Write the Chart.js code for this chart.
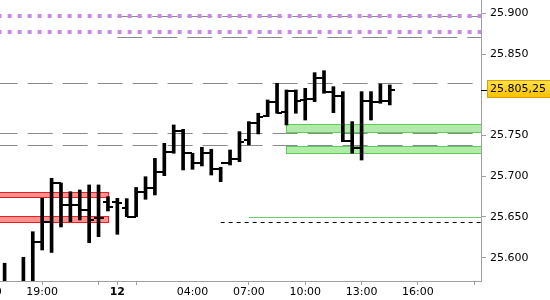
<!DOCTYPE html>
<html>
<head>
<meta charset="utf-8">
<script src="https://cdn.jsdelivr.net/npm/chart.js@4.4.0/dist/chart.umd.min.js"></script>
<style>
  html, body { margin: 0; padding: 0; background: #fff; }
  #wrap { width: 550px; height: 300px; }
</style>
</head>
<body>
<div id="wrap"><canvas id="chart" width="550" height="300"></canvas></div>
<script>
// 30 min bars, index 0 = first bar at the left edge
const opens  = [25.565, 25.566, 25.560, 25.568, 25.6187, 25.6442, 25.6917, 25.6647, 25.6647, 25.6586,
                25.6488, 25.6684, 25.6684, 25.6607, 25.6504, 25.6810, 25.6852, 25.7056, 25.7301, 25.7559,
                25.7282, 25.7159, 25.7289, 25.7085, 25.7166, 25.7208, 25.7445, 25.7650, 25.7739, 25.7915,
                25.7792, 25.8046, 25.7935, 25.7944, 25.8202, 25.8038, 25.7985, 25.7436, 25.7343, 25.7927,
                25.7915, 25.7927];
const highs  = [25.5932, 25.568, 25.6005, 25.6319, 25.6729, 25.6975, 25.6917, 25.6810, 25.6831, 25.6893,
                25.6893, 25.6749, 25.6729, 25.6725, 25.6862, 25.6994, 25.7220, 25.7404, 25.7629, 25.7576,
                25.7282, 25.7355, 25.7331, 25.7110, 25.7322, 25.7547, 25.7670, 25.7773, 25.7936, 25.8141,
                25.8059, 25.8059, 25.8079, 25.8271, 25.8295, 25.8099, 25.8038, 25.7670, 25.8038, 25.8038,
                25.8132, 25.8120];
const lows   = [25.555, 25.552, 25.555, 25.560, 25.6095, 25.6064, 25.6377, 25.6442, 25.6463, 25.6184,
                25.6258, 25.6573, 25.6287, 25.6504, 25.6504, 25.6717, 25.6770, 25.7007, 25.7282, 25.7077,
                25.7085, 25.7126, 25.7015, 25.6933, 25.7138, 25.7179, 25.7384, 25.7519, 25.7731, 25.7773,
                25.7629, 25.7773, 25.7690, 25.7915, 25.8018, 25.7780, 25.7424, 25.7282, 25.7199, 25.7690,
                25.7895, 25.7875];
const closes = [25.568, 25.556, 25.569, 25.6187, 25.6442, 25.6921, 25.6647, 25.6647, 25.6586, 25.6463,
                25.6488, 25.6623, 25.6672, 25.6504, 25.6810, 25.6852, 25.7056, 25.7301, 25.7559, 25.7282,
                25.7159, 25.7289, 25.7085, 25.7166, 25.7208, 25.7424, 25.7650, 25.7724, 25.7915, 25.7780,
                25.8046, 25.7927, 25.7944, 25.8202, 25.8038, 25.7985, 25.7436, 25.7343, 25.7927, 25.7915,
                25.7927, 25.80525];

const xTickPos    = [-2, 4, 10, 12, 14, 20, 26, 32, 38, 44, 50];
const xTickLabels = ['16:00', '19:00', '', '12', '', '04:00', '07:00', '10:00', '13:00', '16:00', ''];
const yTickVals   = [25.6, 25.65, 25.7, 25.75, 25.85, 25.9];

// drawn levels and zones
const dashLevels = [25.8967, 25.8709, 25.8141, 25.7527, 25.7380];
const dashFrom   = [12, 12, -5, -5, -5];
const dotLevels  = [25.8967, 25.8770];
const redZones   = [[25.6810, 25.6745], [25.6508, 25.6438]];
const redZoneEnd = 11;
const greenZones = [[25.7638, 25.7539], [25.7371, 25.7282]];
const greenZoneStart = 30;
const greenLevel = 25.6496, greenLevelFrom = 26;
const stopLevel = 25.6442, stopLevelFrom = 23;

const FONT = 'DejaVu Sans';
Chart.defaults.font.family = FONT;
Chart.defaults.font.size = 11;
Chart.defaults.color = '#000';

const fmtPrice = v => {
  const s = v.toFixed(5);
  return s.slice(0, -2) + ',' + s.slice(-2);
};

const levelsPlugin = {
  id: 'levels',
  beforeDatasetsDraw(chart) {
    const { ctx, chartArea: a, scales: { x, y } } = chart;
    const right = x.max + 5;
    ctx.save();
    ctx.beginPath();
    ctx.rect(a.left, a.top, a.right - a.left, a.bottom - a.top);
    ctx.clip();

    const zone = (x0, x1, lv, fill, stroke) => {
      const px0 = Math.round(x.getPixelForValue(x0)), px1 = Math.round(x.getPixelForValue(x1));
      const py0 = Math.round(y.getPixelForValue(lv[0])), py1 = Math.round(y.getPixelForValue(lv[1]));
      ctx.fillStyle = fill;
      ctx.fillRect(px0, py0, px1 - px0, py1 - py0);
      ctx.strokeStyle = stroke;
      ctx.lineWidth = 1;
      ctx.setLineDash([]);
      ctx.strokeRect(px0 + 0.5, py0 + 0.5, px1 - px0, py1 - py0);
    };
    const hline = (v, from, color, width, dash) => {
      const py = Math.round(y.getPixelForValue(v)) + (width % 2 ? 0.5 : 0);
      ctx.strokeStyle = color;
      ctx.lineWidth = width;
      ctx.setLineDash(dash);
      ctx.beginPath();
      ctx.moveTo(x.getPixelForValue(from), py);
      ctx.lineTo(x.getPixelForValue(right), py);
      ctx.stroke();
    };

    redZones.forEach(z => zone(-5, redZoneEnd, z, '#ff9191', '#ee1c1c'));
    greenZones.forEach(z => zone(greenZoneStart, right, z, '#b2eaaa', '#5ccc5c'));
    dashLevels.forEach((v, i) => hline(v, dashFrom[i], '#8a8a8a', 1, [25, 10]));
    dotLevels.forEach(v => hline(v, -5, '#c88ae6', 4, [4, 6]));
    hline(greenLevel, greenLevelFrom, '#66cc66', 1, []);
    hline(stopLevel, stopLevelFrom, '#000', 1, [4, 4]);
    ctx.restore();
  },
  afterDatasetsDraw(chart) {
    // open tick left, close tick right
    const { ctx, chartArea: a, scales: { x, y } } = chart;
    ctx.save();
    ctx.beginPath();
    ctx.rect(a.left, a.top, a.right - a.left, a.bottom - a.top);
    ctx.clip();
    ctx.fillStyle = '#000';
    opens.forEach((o, i) => {
      const px = Math.round(x.getPixelForValue(i));
      const po = Math.round(y.getPixelForValue(o));
      const pc = Math.round(y.getPixelForValue(closes[i]));
      ctx.fillRect(px - 5, po - 1, 5, 2);
      ctx.fillRect(px, pc - 1, 5, 2);
    });
    ctx.restore();
  },
  afterDraw(chart) {
    // last price marker on the axis
    const { ctx, chartArea: a, scales: { y } } = chart;
    const last = closes[closes.length - 1];
    const py = Math.round(y.getPixelForValue(last));
    ctx.save();
    ctx.fillStyle = '#000';
    ctx.fillRect(a.right, py, 6, 1);
    const bx = a.right + 6, bw = 70, bh = 18, by = py - 10;
    const g = ctx.createLinearGradient(0, by, 0, by + bh);
    g.addColorStop(0, '#ffe34a');
    g.addColorStop(1, '#f7bf00');
    ctx.fillStyle = g;
    ctx.fillRect(bx, by, bw, bh);
    ctx.strokeStyle = '#e0a000';
    ctx.lineWidth = 1;
    ctx.strokeRect(bx + 0.5, by + 0.5, bw, bh - 1);
    ctx.fillStyle = '#000';
    ctx.font = '11px "' + FONT + '"';
    ctx.textBaseline = 'middle';
    ctx.fillText(fmtPrice(last), bx + 3, by + bh / 2 + 0.5);
    ctx.restore();
  }
};

new Chart(document.getElementById('chart'), {
  type: 'bar',
  data: {
    datasets: [{
      data: highs.map((h, i) => ({ x: i, y: [lows[i], h] })),
      backgroundColor: '#000',
      borderWidth: 0,
      barThickness: 3
    }]
  },
  options: {
    responsive: false,
    animation: false,
    devicePixelRatio: 1,
    layout: { padding: 0 },
    plugins: { legend: { display: false }, tooltip: { enabled: false } },
    scales: {
      x: {
        type: 'linear',
        min: -0.49,
        max: 50.71,
        offset: false,
        grid: {
          drawOnChartArea: false,
          offset: false,
          tickLength: 4,
          tickColor: c => (c.tick && (c.tick.value === 20 || c.tick.value < 0)) ? 'rgba(0,0,0,0)' : '#a0a0a0'
        },
        border: { color: '#a0a0a0' },
        ticks: {
          autoSkip: false,
          maxRotation: 0,
          padding: 1,
          callback: (v, i) => xTickLabels[i],
          font: c => ({ family: FONT, size: 11, weight: (c.tick && c.tick.value === 12) ? 'bold' : 'normal' })
        },
        afterBuildTicks: s => { s.ticks = xTickPos.map(v => ({ value: v })); },
        afterFit: s => { s.height = 19; s.paddingLeft = 0; s.paddingRight = 0; }
      },
      y: {
        position: 'right',
        min: 25.5714,
        max: 25.9163,
        grid: { drawOnChartArea: false, tickLength: 5, color: '#a0a0a0' },
        border: { color: '#a0a0a0' },
        ticks: { padding: 4, callback: v => v.toFixed(3) },
        afterBuildTicks: s => { s.ticks = yTickVals.map(v => ({ value: v })); },
        afterFit: s => { s.width = 69; s.paddingTop = 0; s.paddingBottom = 0; }
      }
    }
  },
  plugins: [levelsPlugin]
});
</script>
</body>
</html>
